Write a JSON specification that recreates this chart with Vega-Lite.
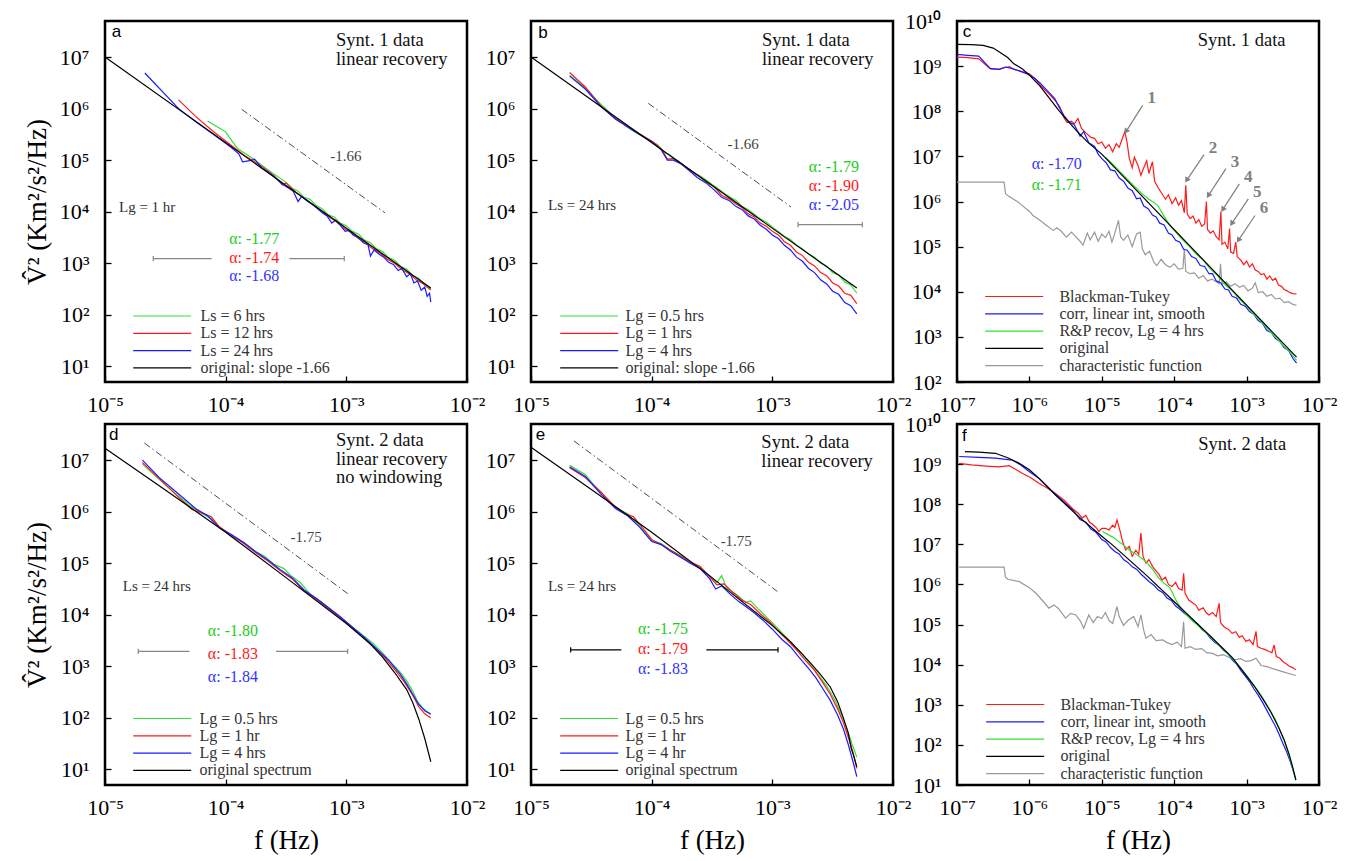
{
  "$schema": "https://vega.github.io/schema/vega-lite/v6.json",
  "padding": {"left": 22, "top": 8, "right": 5, "bottom": 5},
  "config": {
    "font": "Liberation Serif",
    "view": {"stroke": "#000", "strokeWidth": 2.5},
    "axis": {
      "grid": false, "domain": false, "tickSize": -6, "tickColor": "#000", "tickWidth": 1.3,
      "labelFont": "Liberation Serif", "labelFontSize": 22, "labelColor": "#000",
      "labelFlush": false, "labelOverlap": false, "labelBound": false,
      "titleFont": "Liberation Serif", "titleFontSize": 27, "titleFontWeight": "normal", "titleColor": "#000"
    },
    "axisX": {"labelPadding": 18, "titlePadding": 9},
    "axisY": {"labelPadding": 22, "titlePadding": 8},
    "legend": {
      "orient": "none", "title": null, "symbolType": "M-1,0H9", "symbolSize": 134.6, "symbolStrokeWidth": 2,
      "symbolOpacity": 1, "zindex": 5,
      "labelFont": "Liberation Serif", "labelFontSize": 16, "labelColor": "#333", "labelLimit": 400,
      "rowPadding": 1.3, "padding": 0
    },
    "line": {"strokeWidth": 1.2}
  },
  "datasets": {
    "a": [
      {"s":"ls6","lf":-4.15,"lp":5.76},{"s":"ls6","lf":-4.05,"lp":5.62},{"s":"ls6","lf":-4.00,"lp":5.55},{"s":"ls6","lf":-3.95,"lp":5.38},{"s":"ls6","lf":-3.90,"lp":5.22},{"s":"ls6","lf":-3.80,"lp":5.07},{"s":"ls6","lf":-3.70,"lp":4.90},{"s":"ls6","lf":-3.60,"lp":4.73},{"s":"ls6","lf":-3.50,"lp":4.57},{"s":"ls6","lf":-3.45,"lp":4.46},{"s":"ls6","lf":-3.40,"lp":4.40},{"s":"ls6","lf":-3.35,"lp":4.28},{"s":"ls6","lf":-3.30,"lp":4.24},{"s":"ls6","lf":-3.25,"lp":4.12},{"s":"ls6","lf":-3.20,"lp":4.06},{"s":"ls6","lf":-3.15,"lp":3.94},{"s":"ls6","lf":-3.10,"lp":3.90},{"s":"ls6","lf":-3.05,"lp":3.78},{"s":"ls6","lf":-3.00,"lp":3.73},{"s":"ls6","lf":-2.95,"lp":3.62},{"s":"ls6","lf":-2.90,"lp":3.57},{"s":"ls6","lf":-2.85,"lp":3.45},{"s":"ls6","lf":-2.80,"lp":3.40},{"s":"ls6","lf":-2.75,"lp":3.28},{"s":"ls6","lf":-2.70,"lp":3.23},{"s":"ls6","lf":-2.65,"lp":3.11},{"s":"ls6","lf":-2.60,"lp":3.06},{"s":"ls6","lf":-2.55,"lp":2.94},{"s":"ls6","lf":-2.50,"lp":2.89},{"s":"ls6","lf":-2.45,"lp":2.76},{"s":"ls6","lf":-2.40,"lp":2.71},{"s":"ls6","lf":-2.35,"lp":2.58},{"s":"ls6","lf":-2.30,"lp":2.50},
      {"s":"ls12","lf":-4.39,"lp":6.17},{"s":"ls12","lf":-4.25,"lp":5.85},{"s":"ls12","lf":-4.10,"lp":5.55},{"s":"ls12","lf":-3.95,"lp":5.28},{"s":"ls12","lf":-3.85,"lp":5.10},{"s":"ls12","lf":-3.70,"lp":4.88},{"s":"ls12","lf":-3.60,"lp":4.70},{"s":"ls12","lf":-3.53,"lp":4.52},{"s":"ls12","lf":-3.50,"lp":4.56},{"s":"ls12","lf":-3.42,"lp":4.38},{"s":"ls12","lf":-3.35,"lp":4.26},{"s":"ls12","lf":-3.28,"lp":4.14},{"s":"ls12","lf":-3.20,"lp":4.00},{"s":"ls12","lf":-3.14,"lp":3.90},{"s":"ls12","lf":-3.08,"lp":3.80},{"s":"ls12","lf":-3.02,"lp":3.68},{"s":"ls12","lf":-2.96,"lp":3.60},{"s":"ls12","lf":-2.90,"lp":3.48},{"s":"ls12","lf":-2.84,"lp":3.40},{"s":"ls12","lf":-2.78,"lp":3.28},{"s":"ls12","lf":-2.72,"lp":3.20},{"s":"ls12","lf":-2.66,"lp":3.08},{"s":"ls12","lf":-2.60,"lp":3.00},{"s":"ls12","lf":-2.54,"lp":2.88},{"s":"ls12","lf":-2.48,"lp":2.80},{"s":"ls12","lf":-2.42,"lp":2.68},{"s":"ls12","lf":-2.36,"lp":2.60},{"s":"ls12","lf":-2.30,"lp":2.48},
      {"s":"ls24","lf":-4.67,"lp":6.69},{"s":"ls24","lf":-4.39,"lp":6.00},{"s":"ls24","lf":-4.25,"lp":5.75},{"s":"ls24","lf":-4.10,"lp":5.50},{"s":"ls24","lf":-3.95,"lp":5.24},{"s":"ls24","lf":-3.89,"lp":5.12},{"s":"ls24","lf":-3.86,"lp":4.97},{"s":"ls24","lf":-3.80,"lp":4.99},{"s":"ls24","lf":-3.76,"lp":5.02},{"s":"ls24","lf":-3.70,"lp":4.85},{"s":"ls24","lf":-3.64,"lp":4.76},{"s":"ls24","lf":-3.58,"lp":4.64},{"s":"ls24","lf":-3.52,"lp":4.52},{"s":"ls24","lf":-3.48,"lp":4.46},{"s":"ls24","lf":-3.44,"lp":4.40},{"s":"ls24","lf":-3.40,"lp":4.20},{"s":"ls24","lf":-3.37,"lp":4.30},{"s":"ls24","lf":-3.33,"lp":4.22},{"s":"ls24","lf":-3.28,"lp":4.14},{"s":"ls24","lf":-3.24,"lp":4.06},{"s":"ls24","lf":-3.20,"lp":3.98},{"s":"ls24","lf":-3.16,"lp":3.92},{"s":"ls24","lf":-3.12,"lp":3.78},{"s":"ls24","lf":-3.09,"lp":3.84},{"s":"ls24","lf":-3.05,"lp":3.74},{"s":"ls24","lf":-3.01,"lp":3.62},{"s":"ls24","lf":-2.98,"lp":3.64},{"s":"ls24","lf":-2.94,"lp":3.54},{"s":"ls24","lf":-2.90,"lp":3.50},{"s":"ls24","lf":-2.86,"lp":3.40},{"s":"ls24","lf":-2.82,"lp":3.36},{"s":"ls24","lf":-2.80,"lp":3.14},{"s":"ls24","lf":-2.77,"lp":3.26},{"s":"ls24","lf":-2.73,"lp":3.18},{"s":"ls24","lf":-2.69,"lp":3.12},{"s":"ls24","lf":-2.65,"lp":3.02},{"s":"ls24","lf":-2.61,"lp":2.98},{"s":"ls24","lf":-2.57,"lp":2.86},{"s":"ls24","lf":-2.54,"lp":2.90},{"s":"ls24","lf":-2.50,"lp":2.74},{"s":"ls24","lf":-2.47,"lp":2.80},{"s":"ls24","lf":-2.44,"lp":2.62},{"s":"ls24","lf":-2.41,"lp":2.66},{"s":"ls24","lf":-2.38,"lp":2.48},{"s":"ls24","lf":-2.35,"lp":2.54},{"s":"ls24","lf":-2.33,"lp":2.36},{"s":"ls24","lf":-2.31,"lp":2.42},{"s":"ls24","lf":-2.30,"lp":2.25},
      {"s":"orig","lf":-5.00,"lp":7.00},{"s":"orig","lf":-2.30,"lp":2.52}
    ],
    "b": [
      {"s":"lg05","lf":-4.68,"lp":6.65},{"s":"lg05","lf":-4.55,"lp":6.40},{"s":"lg05","lf":-4.42,"lp":6.08},{"s":"lg05","lf":-4.30,"lp":5.82},{"s":"lg05","lf":-4.20,"lp":5.64},{"s":"lg05","lf":-4.12,"lp":5.52},{"s":"lg05","lf":-4.00,"lp":5.36},{"s":"lg05","lf":-3.95,"lp":5.30},{"s":"lg05","lf":-3.90,"lp":5.16},{"s":"lg05","lf":-3.85,"lp":5.10},{"s":"lg05","lf":-3.78,"lp":4.98},{"s":"lg05","lf":-3.72,"lp":4.86},{"s":"lg05","lf":-3.65,"lp":4.75},{"s":"lg05","lf":-3.60,"lp":4.70},{"s":"lg05","lf":-3.55,"lp":4.62},{"s":"lg05","lf":-3.50,"lp":4.53},{"s":"lg05","lf":-3.45,"lp":4.45},{"s":"lg05","lf":-3.40,"lp":4.36},{"s":"lg05","lf":-3.35,"lp":4.28},{"s":"lg05","lf":-3.30,"lp":4.22},{"s":"lg05","lf":-3.25,"lp":4.10},{"s":"lg05","lf":-3.20,"lp":4.04},{"s":"lg05","lf":-3.15,"lp":3.95},{"s":"lg05","lf":-3.10,"lp":3.86},{"s":"lg05","lf":-3.05,"lp":3.80},{"s":"lg05","lf":-3.00,"lp":3.70},{"s":"lg05","lf":-2.95,"lp":3.62},{"s":"lg05","lf":-2.90,"lp":3.52},{"s":"lg05","lf":-2.85,"lp":3.46},{"s":"lg05","lf":-2.80,"lp":3.35},{"s":"lg05","lf":-2.75,"lp":3.28},{"s":"lg05","lf":-2.70,"lp":3.18},{"s":"lg05","lf":-2.65,"lp":3.12},{"s":"lg05","lf":-2.60,"lp":3.00},{"s":"lg05","lf":-2.55,"lp":2.95},{"s":"lg05","lf":-2.50,"lp":2.82},{"s":"lg05","lf":-2.45,"lp":2.78},{"s":"lg05","lf":-2.40,"lp":2.64},{"s":"lg05","lf":-2.35,"lp":2.58},{"s":"lg05","lf":-2.30,"lp":2.42},
      {"s":"lg1","lf":-4.68,"lp":6.70},{"s":"lg1","lf":-4.55,"lp":6.42},{"s":"lg1","lf":-4.42,"lp":6.05},{"s":"lg1","lf":-4.30,"lp":5.80},{"s":"lg1","lf":-4.15,"lp":5.58},{"s":"lg1","lf":-4.00,"lp":5.37},{"s":"lg1","lf":-3.92,"lp":5.22},{"s":"lg1","lf":-3.87,"lp":5.02},{"s":"lg1","lf":-3.82,"lp":5.03},{"s":"lg1","lf":-3.78,"lp":4.98},{"s":"lg1","lf":-3.70,"lp":4.84},{"s":"lg1","lf":-3.62,"lp":4.71},{"s":"lg1","lf":-3.55,"lp":4.58},{"s":"lg1","lf":-3.48,"lp":4.48},{"s":"lg1","lf":-3.42,"lp":4.32},{"s":"lg1","lf":-3.36,"lp":4.25},{"s":"lg1","lf":-3.30,"lp":4.15},{"s":"lg1","lf":-3.25,"lp":4.08},{"s":"lg1","lf":-3.20,"lp":3.96},{"s":"lg1","lf":-3.15,"lp":3.90},{"s":"lg1","lf":-3.10,"lp":3.78},{"s":"lg1","lf":-3.05,"lp":3.72},{"s":"lg1","lf":-3.00,"lp":3.62},{"s":"lg1","lf":-2.95,"lp":3.55},{"s":"lg1","lf":-2.90,"lp":3.42},{"s":"lg1","lf":-2.85,"lp":3.35},{"s":"lg1","lf":-2.80,"lp":3.22},{"s":"lg1","lf":-2.75,"lp":3.15},{"s":"lg1","lf":-2.70,"lp":3.02},{"s":"lg1","lf":-2.65,"lp":2.95},{"s":"lg1","lf":-2.60,"lp":2.82},{"s":"lg1","lf":-2.55,"lp":2.76},{"s":"lg1","lf":-2.50,"lp":2.62},{"s":"lg1","lf":-2.45,"lp":2.56},{"s":"lg1","lf":-2.40,"lp":2.42},{"s":"lg1","lf":-2.35,"lp":2.38},{"s":"lg1","lf":-2.30,"lp":2.22},
      {"s":"lg4","lf":-4.68,"lp":6.63},{"s":"lg4","lf":-4.55,"lp":6.38},{"s":"lg4","lf":-4.42,"lp":6.04},{"s":"lg4","lf":-4.30,"lp":5.80},{"s":"lg4","lf":-4.15,"lp":5.57},{"s":"lg4","lf":-4.00,"lp":5.36},{"s":"lg4","lf":-3.92,"lp":5.20},{"s":"lg4","lf":-3.87,"lp":5.00},{"s":"lg4","lf":-3.82,"lp":5.00},{"s":"lg4","lf":-3.75,"lp":4.92},{"s":"lg4","lf":-3.68,"lp":4.78},{"s":"lg4","lf":-3.62,"lp":4.66},{"s":"lg4","lf":-3.55,"lp":4.56},{"s":"lg4","lf":-3.48,"lp":4.42},{"s":"lg4","lf":-3.42,"lp":4.28},{"s":"lg4","lf":-3.36,"lp":4.22},{"s":"lg4","lf":-3.30,"lp":4.10},{"s":"lg4","lf":-3.25,"lp":4.04},{"s":"lg4","lf":-3.20,"lp":3.92},{"s":"lg4","lf":-3.15,"lp":3.86},{"s":"lg4","lf":-3.10,"lp":3.74},{"s":"lg4","lf":-3.05,"lp":3.66},{"s":"lg4","lf":-3.00,"lp":3.55},{"s":"lg4","lf":-2.95,"lp":3.48},{"s":"lg4","lf":-2.90,"lp":3.35},{"s":"lg4","lf":-2.85,"lp":3.26},{"s":"lg4","lf":-2.80,"lp":3.12},{"s":"lg4","lf":-2.75,"lp":3.04},{"s":"lg4","lf":-2.70,"lp":2.90},{"s":"lg4","lf":-2.65,"lp":2.82},{"s":"lg4","lf":-2.60,"lp":2.68},{"s":"lg4","lf":-2.55,"lp":2.60},{"s":"lg4","lf":-2.50,"lp":2.46},{"s":"lg4","lf":-2.45,"lp":2.40},{"s":"lg4","lf":-2.40,"lp":2.24},{"s":"lg4","lf":-2.35,"lp":2.18},{"s":"lg4","lf":-2.30,"lp":2.02},
      {"s":"orig","lf":-5.00,"lp":7.00},{"s":"orig","lf":-2.30,"lp":2.52}
    ],
    "c": [
      {"s":"char","lf":-7.00,"lp":6.43},{"s":"char","lf":-6.60,"lp":6.43},{"s":"char","lf":-6.35,"lp":6.43},{"s":"char","lf":-6.33,"lp":6.18},{"s":"char","lf":-6.30,"lp":6.13},{"s":"char","lf":-6.15,"lp":5.98},{"s":"char","lf":-6.00,"lp":5.78},{"s":"char","lf":-5.95,"lp":5.69},{"s":"char","lf":-5.85,"lp":5.58},{"s":"char","lf":-5.75,"lp":5.45},{"s":"char","lf":-5.67,"lp":5.36},{"s":"char","lf":-5.62,"lp":5.42},{"s":"char","lf":-5.56,"lp":5.34},{"s":"char","lf":-5.49,"lp":5.21},{"s":"char","lf":-5.42,"lp":5.32},{"s":"char","lf":-5.36,"lp":5.22},{"s":"char","lf":-5.30,"lp":5.12},{"s":"char","lf":-5.26,"lp":5.03},{"s":"char","lf":-5.20,"lp":5.30},{"s":"char","lf":-5.16,"lp":5.15},{"s":"char","lf":-5.10,"lp":5.32},{"s":"char","lf":-5.05,"lp":5.12},{"s":"char","lf":-5.00,"lp":5.28},{"s":"char","lf":-4.95,"lp":5.20},{"s":"char","lf":-4.90,"lp":5.34},{"s":"char","lf":-4.86,"lp":5.10},{"s":"char","lf":-4.82,"lp":5.30},{"s":"char","lf":-4.77,"lp":5.58},{"s":"char","lf":-4.74,"lp":5.22},{"s":"char","lf":-4.70,"lp":5.14},{"s":"char","lf":-4.64,"lp":5.26},{"s":"char","lf":-4.58,"lp":5.00},{"s":"char","lf":-4.52,"lp":5.28},{"s":"char","lf":-4.47,"lp":5.32},{"s":"char","lf":-4.44,"lp":4.95},{"s":"char","lf":-4.40,"lp":4.82},{"s":"char","lf":-4.34,"lp":4.90},{"s":"char","lf":-4.28,"lp":4.65},{"s":"char","lf":-4.24,"lp":4.58},{"s":"char","lf":-4.18,"lp":4.72},{"s":"char","lf":-4.12,"lp":4.60},{"s":"char","lf":-4.06,"lp":4.54},{"s":"char","lf":-4.00,"lp":4.62},{"s":"char","lf":-3.94,"lp":4.50},{"s":"char","lf":-3.88,"lp":4.52},{"s":"char","lf":-3.86,"lp":4.95},{"s":"char","lf":-3.84,"lp":4.45},{"s":"char","lf":-3.78,"lp":4.40},{"s":"char","lf":-3.72,"lp":4.42},{"s":"char","lf":-3.66,"lp":4.30},{"s":"char","lf":-3.60,"lp":4.36},{"s":"char","lf":-3.54,"lp":4.24},{"s":"char","lf":-3.48,"lp":4.28},{"s":"char","lf":-3.42,"lp":4.22},{"s":"char","lf":-3.38,"lp":4.18},{"s":"char","lf":-3.36,"lp":4.62},{"s":"char","lf":-3.34,"lp":4.16},{"s":"char","lf":-3.28,"lp":4.22},{"s":"char","lf":-3.22,"lp":4.12},{"s":"char","lf":-3.16,"lp":4.18},{"s":"char","lf":-3.10,"lp":4.10},{"s":"char","lf":-3.04,"lp":4.14},{"s":"char","lf":-2.98,"lp":4.02},{"s":"char","lf":-2.92,"lp":4.08},{"s":"char","lf":-2.88,"lp":4.20},{"s":"char","lf":-2.84,"lp":3.98},{"s":"char","lf":-2.78,"lp":4.00},{"s":"char","lf":-2.72,"lp":3.90},{"s":"char","lf":-2.66,"lp":3.94},{"s":"char","lf":-2.60,"lp":3.84},{"s":"char","lf":-2.54,"lp":3.86},{"s":"char","lf":-2.48,"lp":3.76},{"s":"char","lf":-2.42,"lp":3.78},{"s":"char","lf":-2.36,"lp":3.72},{"s":"char","lf":-2.31,"lp":3.70},
      {"s":"bt","lf":-7.00,"lp":9.20},{"s":"bt","lf":-6.85,"lp":9.19},{"s":"bt","lf":-6.70,"lp":9.16},{"s":"bt","lf":-6.62,"lp":9.05},{"s":"bt","lf":-6.54,"lp":8.94},{"s":"bt","lf":-6.42,"lp":8.93},{"s":"bt","lf":-6.33,"lp":8.97},{"s":"bt","lf":-6.28,"lp":8.99},{"s":"bt","lf":-6.20,"lp":8.92},{"s":"bt","lf":-6.10,"lp":8.88},{"s":"bt","lf":-6.00,"lp":8.83},{"s":"bt","lf":-5.92,"lp":8.72},{"s":"bt","lf":-5.85,"lp":8.58},{"s":"bt","lf":-5.75,"lp":8.42},{"s":"bt","lf":-5.65,"lp":8.25},{"s":"bt","lf":-5.58,"lp":8.10},{"s":"bt","lf":-5.52,"lp":7.85},{"s":"bt","lf":-5.48,"lp":7.75},{"s":"bt","lf":-5.42,"lp":7.78},{"s":"bt","lf":-5.38,"lp":7.72},{"s":"bt","lf":-5.33,"lp":7.84},{"s":"bt","lf":-5.28,"lp":7.62},{"s":"bt","lf":-5.22,"lp":7.52},{"s":"bt","lf":-5.15,"lp":7.42},{"s":"bt","lf":-5.10,"lp":7.40},{"s":"bt","lf":-5.05,"lp":7.28},{"s":"bt","lf":-5.00,"lp":7.32},{"s":"bt","lf":-4.95,"lp":7.18},{"s":"bt","lf":-4.90,"lp":7.26},{"s":"bt","lf":-4.85,"lp":7.10},{"s":"bt","lf":-4.80,"lp":7.28},{"s":"bt","lf":-4.76,"lp":7.20},{"s":"bt","lf":-4.72,"lp":7.38},{"s":"bt","lf":-4.68,"lp":7.55},{"s":"bt","lf":-4.65,"lp":7.30},{"s":"bt","lf":-4.62,"lp":6.95},{"s":"bt","lf":-4.58,"lp":6.75},{"s":"bt","lf":-4.55,"lp":6.98},{"s":"bt","lf":-4.50,"lp":6.80},{"s":"bt","lf":-4.46,"lp":6.58},{"s":"bt","lf":-4.42,"lp":6.75},{"s":"bt","lf":-4.38,"lp":6.90},{"s":"bt","lf":-4.35,"lp":6.62},{"s":"bt","lf":-4.30,"lp":6.88},{"s":"bt","lf":-4.27,"lp":6.45},{"s":"bt","lf":-4.22,"lp":6.30},{"s":"bt","lf":-4.18,"lp":6.20},{"s":"bt","lf":-4.12,"lp":6.05},{"s":"bt","lf":-4.08,"lp":6.15},{"s":"bt","lf":-4.03,"lp":5.95},{"s":"bt","lf":-3.98,"lp":6.08},{"s":"bt","lf":-3.94,"lp":5.92},{"s":"bt","lf":-3.90,"lp":6.02},{"s":"bt","lf":-3.86,"lp":5.75},{"s":"bt","lf":-3.84,"lp":6.36},{"s":"bt","lf":-3.82,"lp":5.72},{"s":"bt","lf":-3.78,"lp":5.62},{"s":"bt","lf":-3.74,"lp":5.68},{"s":"bt","lf":-3.70,"lp":5.52},{"s":"bt","lf":-3.66,"lp":5.60},{"s":"bt","lf":-3.62,"lp":5.45},{"s":"bt","lf":-3.58,"lp":5.50},{"s":"bt","lf":-3.555,"lp":6.00},{"s":"bt","lf":-3.54,"lp":5.38},{"s":"bt","lf":-3.50,"lp":5.30},{"s":"bt","lf":-3.46,"lp":5.35},{"s":"bt","lf":-3.42,"lp":5.22},{"s":"bt","lf":-3.38,"lp":5.15},{"s":"bt","lf":-3.355,"lp":5.78},{"s":"bt","lf":-3.34,"lp":5.05},{"s":"bt","lf":-3.30,"lp":5.10},{"s":"bt","lf":-3.26,"lp":4.95},{"s":"bt","lf":-3.235,"lp":5.40},{"s":"bt","lf":-3.22,"lp":4.88},{"s":"bt","lf":-3.18,"lp":4.85},{"s":"bt","lf":-3.15,"lp":5.10},{"s":"bt","lf":-3.13,"lp":4.78},{"s":"bt","lf":-3.08,"lp":4.70},{"s":"bt","lf":-3.04,"lp":4.60},{"s":"bt","lf":-3.00,"lp":4.68},{"s":"bt","lf":-2.96,"lp":4.55},{"s":"bt","lf":-2.92,"lp":4.62},{"s":"bt","lf":-2.88,"lp":4.48},{"s":"bt","lf":-2.84,"lp":4.45},{"s":"bt","lf":-2.80,"lp":4.38},{"s":"bt","lf":-2.76,"lp":4.40},{"s":"bt","lf":-2.72,"lp":4.28},{"s":"bt","lf":-2.68,"lp":4.35},{"s":"bt","lf":-2.64,"lp":4.25},{"s":"bt","lf":-2.60,"lp":4.30},{"s":"bt","lf":-2.56,"lp":4.15},{"s":"bt","lf":-2.52,"lp":4.12},{"s":"bt","lf":-2.48,"lp":4.05},{"s":"bt","lf":-2.44,"lp":4.02},{"s":"bt","lf":-2.40,"lp":3.98},{"s":"bt","lf":-2.36,"lp":3.96},{"s":"bt","lf":-2.31,"lp":3.95},
      {"s":"corr","lf":-7.00,"lp":9.26},{"s":"corr","lf":-6.85,"lp":9.24},{"s":"corr","lf":-6.70,"lp":9.22},{"s":"corr","lf":-6.62,"lp":9.08},{"s":"corr","lf":-6.54,"lp":8.95},{"s":"corr","lf":-6.42,"lp":8.93},{"s":"corr","lf":-6.33,"lp":8.98},{"s":"corr","lf":-6.25,"lp":8.95},{"s":"corr","lf":-6.15,"lp":8.90},{"s":"corr","lf":-6.05,"lp":8.84},{"s":"corr","lf":-5.98,"lp":8.78},{"s":"corr","lf":-5.92,"lp":8.72},{"s":"corr","lf":-5.85,"lp":8.62},{"s":"corr","lf":-5.78,"lp":8.50},{"s":"corr","lf":-5.72,"lp":8.40},{"s":"corr","lf":-5.65,"lp":8.28},{"s":"corr","lf":-5.58,"lp":8.06},{"s":"corr","lf":-5.52,"lp":7.90},{"s":"corr","lf":-5.45,"lp":7.76},{"s":"corr","lf":-5.38,"lp":7.70},{"s":"corr","lf":-5.30,"lp":7.45},{"s":"corr","lf":-5.25,"lp":7.55},{"s":"corr","lf":-5.18,"lp":7.30},{"s":"corr","lf":-5.10,"lp":7.22},{"s":"corr","lf":-5.05,"lp":7.05},{"s":"corr","lf":-5.00,"lp":6.95},{"s":"corr","lf":-4.94,"lp":6.86},{"s":"corr","lf":-4.88,"lp":6.70},{"s":"corr","lf":-4.82,"lp":6.68},{"s":"corr","lf":-4.76,"lp":6.52},{"s":"corr","lf":-4.70,"lp":6.45},{"s":"corr","lf":-4.64,"lp":6.30},{"s":"corr","lf":-4.58,"lp":6.24},{"s":"corr","lf":-4.52,"lp":6.06},{"s":"corr","lf":-4.47,"lp":6.08},{"s":"corr","lf":-4.42,"lp":5.90},{"s":"corr","lf":-4.36,"lp":5.84},{"s":"corr","lf":-4.30,"lp":5.70},{"s":"corr","lf":-4.25,"lp":5.66},{"s":"corr","lf":-4.20,"lp":5.52},{"s":"corr","lf":-4.14,"lp":5.48},{"s":"corr","lf":-4.08,"lp":5.30},{"s":"corr","lf":-4.03,"lp":5.26},{"s":"corr","lf":-3.98,"lp":5.14},{"s":"corr","lf":-3.92,"lp":5.10},{"s":"corr","lf":-3.87,"lp":4.94},{"s":"corr","lf":-3.82,"lp":4.92},{"s":"corr","lf":-3.76,"lp":4.78},{"s":"corr","lf":-3.70,"lp":4.74},{"s":"corr","lf":-3.64,"lp":4.58},{"s":"corr","lf":-3.58,"lp":4.56},{"s":"corr","lf":-3.52,"lp":4.40},{"s":"corr","lf":-3.47,"lp":4.40},{"s":"corr","lf":-3.42,"lp":4.24},{"s":"corr","lf":-3.36,"lp":4.20},{"s":"corr","lf":-3.30,"lp":4.06},{"s":"corr","lf":-3.25,"lp":4.04},{"s":"corr","lf":-3.20,"lp":3.90},{"s":"corr","lf":-3.14,"lp":3.86},{"s":"corr","lf":-3.08,"lp":3.72},{"s":"corr","lf":-3.02,"lp":3.68},{"s":"corr","lf":-2.96,"lp":3.56},{"s":"corr","lf":-2.90,"lp":3.50},{"s":"corr","lf":-2.84,"lp":3.36},{"s":"corr","lf":-2.78,"lp":3.30},{"s":"corr","lf":-2.72,"lp":3.14},{"s":"corr","lf":-2.66,"lp":3.10},{"s":"corr","lf":-2.60,"lp":2.96},{"s":"corr","lf":-2.54,"lp":2.90},{"s":"corr","lf":-2.48,"lp":2.76},{"s":"corr","lf":-2.42,"lp":2.70},{"s":"corr","lf":-2.36,"lp":2.52},{"s":"corr","lf":-2.31,"lp":2.42},
      {"s":"rp","lf":-4.95,"lp":6.98},{"s":"rp","lf":-4.85,"lp":6.83},{"s":"rp","lf":-4.75,"lp":6.66},{"s":"rp","lf":-4.65,"lp":6.50},{"s":"rp","lf":-4.55,"lp":6.34},{"s":"rp","lf":-4.45,"lp":6.18},{"s":"rp","lf":-4.35,"lp":6.05},{"s":"rp","lf":-4.28,"lp":5.98},{"s":"rp","lf":-4.22,"lp":5.90},{"s":"rp","lf":-4.18,"lp":5.78},{"s":"rp","lf":-4.12,"lp":5.62},{"s":"rp","lf":-4.05,"lp":5.45},{"s":"rp","lf":-3.98,"lp":5.32},{"s":"rp","lf":-3.90,"lp":5.18},{"s":"rp","lf":-3.80,"lp":5.02},{"s":"rp","lf":-3.70,"lp":4.84},{"s":"rp","lf":-3.60,"lp":4.70},{"s":"rp","lf":-3.50,"lp":4.50},{"s":"rp","lf":-3.40,"lp":4.36},{"s":"rp","lf":-3.30,"lp":4.16},{"s":"rp","lf":-3.20,"lp":4.02},{"s":"rp","lf":-3.10,"lp":3.84},{"s":"rp","lf":-3.00,"lp":3.68},{"s":"rp","lf":-2.90,"lp":3.50},{"s":"rp","lf":-2.80,"lp":3.34},{"s":"rp","lf":-2.70,"lp":3.16},{"s":"rp","lf":-2.60,"lp":3.00},{"s":"rp","lf":-2.50,"lp":2.82},{"s":"rp","lf":-2.40,"lp":2.66},{"s":"rp","lf":-2.31,"lp":2.48},
      {"s":"orig","lf":-7.00,"lp":9.48},{"s":"orig","lf":-6.80,"lp":9.475},{"s":"orig","lf":-6.64,"lp":9.46},{"s":"orig","lf":-6.50,"lp":9.40},{"s":"orig","lf":-6.41,"lp":9.31},{"s":"orig","lf":-6.30,"lp":9.19},{"s":"orig","lf":-6.22,"lp":9.06},{"s":"orig","lf":-6.10,"lp":8.94},{"s":"orig","lf":-6.00,"lp":8.80},{"s":"orig","lf":-5.85,"lp":8.55},{"s":"orig","lf":-5.72,"lp":8.28},{"s":"orig","lf":-5.60,"lp":8.03},{"s":"orig","lf":-5.49,"lp":7.82},{"s":"orig","lf":-5.35,"lp":7.57},{"s":"orig","lf":-5.20,"lp":7.32},{"s":"orig","lf":-5.00,"lp":7.05},{"s":"orig","lf":-2.31,"lp":2.55}
    ],
    "arrows": [
      {"n":"1","lf":-4.436,"lp":8.13,"lf2":-4.666,"lp2":7.55},
      {"n":"2","lf":-3.588,"lp":7.04,"lf2":-3.828,"lp2":6.47},
      {"n":"3","lf":-3.285,"lp":6.73,"lf2":-3.529,"lp2":6.13},
      {"n":"4","lf":-3.10,"lp":6.39,"lf2":-3.33,"lp2":5.82},
      {"n":"5","lf":-2.976,"lp":6.06,"lf2":-3.206,"lp2":5.51},
      {"n":"6","lf":-2.884,"lp":5.69,"lf2":-3.114,"lp2":5.14}
    ],
    "d": [
      {"s":"lg05","lf":-4.69,"lp":6.92},{"s":"lg05","lf":-4.55,"lp":6.62},{"s":"lg05","lf":-4.40,"lp":6.32},{"s":"lg05","lf":-4.30,"lp":6.12},{"s":"lg05","lf":-4.20,"lp":5.97},{"s":"lg05","lf":-4.12,"lp":5.86},{"s":"lg05","lf":-4.05,"lp":5.70},{"s":"lg05","lf":-3.95,"lp":5.52},{"s":"lg05","lf":-3.85,"lp":5.40},{"s":"lg05","lf":-3.75,"lp":5.22},{"s":"lg05","lf":-3.68,"lp":5.14},{"s":"lg05","lf":-3.60,"lp":4.98},{"s":"lg05","lf":-3.52,"lp":4.90},{"s":"lg05","lf":-3.45,"lp":4.74},{"s":"lg05","lf":-3.38,"lp":4.62},{"s":"lg05","lf":-3.30,"lp":4.40},{"s":"lg05","lf":-3.22,"lp":4.27},{"s":"lg05","lf":-3.15,"lp":4.14},{"s":"lg05","lf":-3.08,"lp":4.01},{"s":"lg05","lf":-3.00,"lp":3.86},{"s":"lg05","lf":-2.92,"lp":3.71},{"s":"lg05","lf":-2.85,"lp":3.58},{"s":"lg05","lf":-2.78,"lp":3.45},{"s":"lg05","lf":-2.70,"lp":3.26},{"s":"lg05","lf":-2.62,"lp":3.05},{"s":"lg05","lf":-2.55,"lp":2.88},{"s":"lg05","lf":-2.50,"lp":2.72},{"s":"lg05","lf":-2.45,"lp":2.52},{"s":"lg05","lf":-2.41,"lp":2.32},{"s":"lg05","lf":-2.37,"lp":2.20},{"s":"lg05","lf":-2.33,"lp":2.12},{"s":"lg05","lf":-2.30,"lp":2.08},
      {"s":"lg1","lf":-4.69,"lp":6.95},{"s":"lg1","lf":-4.55,"lp":6.64},{"s":"lg1","lf":-4.40,"lp":6.30},{"s":"lg1","lf":-4.28,"lp":6.04},{"s":"lg1","lf":-4.18,"lp":5.96},{"s":"lg1","lf":-4.12,"lp":5.90},{"s":"lg1","lf":-4.05,"lp":5.70},{"s":"lg1","lf":-3.95,"lp":5.54},{"s":"lg1","lf":-3.85,"lp":5.38},{"s":"lg1","lf":-3.75,"lp":5.20},{"s":"lg1","lf":-3.65,"lp":5.04},{"s":"lg1","lf":-3.55,"lp":4.86},{"s":"lg1","lf":-3.45,"lp":4.70},{"s":"lg1","lf":-3.35,"lp":4.46},{"s":"lg1","lf":-3.25,"lp":4.30},{"s":"lg1","lf":-3.15,"lp":4.12},{"s":"lg1","lf":-3.05,"lp":3.94},{"s":"lg1","lf":-2.95,"lp":3.75},{"s":"lg1","lf":-2.85,"lp":3.54},{"s":"lg1","lf":-2.75,"lp":3.32},{"s":"lg1","lf":-2.68,"lp":3.16},{"s":"lg1","lf":-2.60,"lp":2.94},{"s":"lg1","lf":-2.52,"lp":2.70},{"s":"lg1","lf":-2.45,"lp":2.44},{"s":"lg1","lf":-2.40,"lp":2.22},{"s":"lg1","lf":-2.35,"lp":2.08},{"s":"lg1","lf":-2.30,"lp":2.00},
      {"s":"lg4","lf":-4.69,"lp":7.00},{"s":"lg4","lf":-4.55,"lp":6.66},{"s":"lg4","lf":-4.40,"lp":6.36},{"s":"lg4","lf":-4.25,"lp":6.06},{"s":"lg4","lf":-4.15,"lp":5.92},{"s":"lg4","lf":-4.05,"lp":5.68},{"s":"lg4","lf":-3.95,"lp":5.55},{"s":"lg4","lf":-3.85,"lp":5.40},{"s":"lg4","lf":-3.75,"lp":5.22},{"s":"lg4","lf":-3.65,"lp":5.06},{"s":"lg4","lf":-3.55,"lp":4.88},{"s":"lg4","lf":-3.45,"lp":4.72},{"s":"lg4","lf":-3.35,"lp":4.48},{"s":"lg4","lf":-3.25,"lp":4.32},{"s":"lg4","lf":-3.15,"lp":4.14},{"s":"lg4","lf":-3.05,"lp":3.96},{"s":"lg4","lf":-2.95,"lp":3.76},{"s":"lg4","lf":-2.85,"lp":3.56},{"s":"lg4","lf":-2.75,"lp":3.34},{"s":"lg4","lf":-2.65,"lp":3.12},{"s":"lg4","lf":-2.55,"lp":2.84},{"s":"lg4","lf":-2.50,"lp":2.66},{"s":"lg4","lf":-2.45,"lp":2.46},{"s":"lg4","lf":-2.40,"lp":2.26},{"s":"lg4","lf":-2.35,"lp":2.14},{"s":"lg4","lf":-2.30,"lp":2.07},
      {"s":"orig","lf":-5.00,"lp":7.23},{"s":"orig","lf":-4.50,"lp":6.42},{"s":"orig","lf":-4.00,"lp":5.60},{"s":"orig","lf":-3.50,"lp":4.72},{"s":"orig","lf":-3.00,"lp":3.83},{"s":"orig","lf":-2.80,"lp":3.43},{"s":"orig","lf":-2.70,"lp":3.18},{"s":"orig","lf":-2.60,"lp":2.88},{"s":"orig","lf":-2.50,"lp":2.55},{"s":"orig","lf":-2.45,"lp":2.30},{"s":"orig","lf":-2.40,"lp":1.98},{"s":"orig","lf":-2.35,"lp":1.60},{"s":"orig","lf":-2.30,"lp":1.15}
    ],
    "e": [
      {"s":"lg05","lf":-4.68,"lp":6.90},{"s":"lg05","lf":-4.55,"lp":6.72},{"s":"lg05","lf":-4.42,"lp":6.35},{"s":"lg05","lf":-4.30,"lp":6.08},{"s":"lg05","lf":-4.20,"lp":5.96},{"s":"lg05","lf":-4.10,"lp":5.72},{"s":"lg05","lf":-4.00,"lp":5.44},{"s":"lg05","lf":-3.92,"lp":5.38},{"s":"lg05","lf":-3.85,"lp":5.26},{"s":"lg05","lf":-3.75,"lp":5.14},{"s":"lg05","lf":-3.68,"lp":5.02},{"s":"lg05","lf":-3.60,"lp":4.92},{"s":"lg05","lf":-3.52,"lp":4.76},{"s":"lg05","lf":-3.46,"lp":4.62},{"s":"lg05","lf":-3.42,"lp":4.76},{"s":"lg05","lf":-3.38,"lp":4.52},{"s":"lg05","lf":-3.30,"lp":4.40},{"s":"lg05","lf":-3.22,"lp":4.24},{"s":"lg05","lf":-3.18,"lp":4.27},{"s":"lg05","lf":-3.12,"lp":4.12},{"s":"lg05","lf":-3.05,"lp":3.96},{"s":"lg05","lf":-2.98,"lp":3.80},{"s":"lg05","lf":-2.90,"lp":3.60},{"s":"lg05","lf":-2.82,"lp":3.40},{"s":"lg05","lf":-2.75,"lp":3.24},{"s":"lg05","lf":-2.68,"lp":3.02},{"s":"lg05","lf":-2.62,"lp":2.84},{"s":"lg05","lf":-2.55,"lp":2.62},{"s":"lg05","lf":-2.48,"lp":2.34},{"s":"lg05","lf":-2.42,"lp":2.02},{"s":"lg05","lf":-2.38,"lp":1.78},{"s":"lg05","lf":-2.34,"lp":1.50},{"s":"lg05","lf":-2.30,"lp":1.24},
      {"s":"lg1","lf":-4.68,"lp":6.85},{"s":"lg1","lf":-4.55,"lp":6.66},{"s":"lg1","lf":-4.42,"lp":6.38},{"s":"lg1","lf":-4.30,"lp":6.08},{"s":"lg1","lf":-4.22,"lp":5.96},{"s":"lg1","lf":-4.15,"lp":5.90},{"s":"lg1","lf":-4.08,"lp":5.70},{"s":"lg1","lf":-4.00,"lp":5.46},{"s":"lg1","lf":-3.92,"lp":5.36},{"s":"lg1","lf":-3.85,"lp":5.26},{"s":"lg1","lf":-3.75,"lp":5.12},{"s":"lg1","lf":-3.68,"lp":5.02},{"s":"lg1","lf":-3.60,"lp":4.94},{"s":"lg1","lf":-3.52,"lp":4.74},{"s":"lg1","lf":-3.46,"lp":4.58},{"s":"lg1","lf":-3.40,"lp":4.60},{"s":"lg1","lf":-3.33,"lp":4.44},{"s":"lg1","lf":-3.25,"lp":4.28},{"s":"lg1","lf":-3.18,"lp":4.20},{"s":"lg1","lf":-3.10,"lp":4.02},{"s":"lg1","lf":-3.02,"lp":3.86},{"s":"lg1","lf":-2.95,"lp":3.68},{"s":"lg1","lf":-2.88,"lp":3.52},{"s":"lg1","lf":-2.80,"lp":3.32},{"s":"lg1","lf":-2.72,"lp":3.10},{"s":"lg1","lf":-2.65,"lp":2.92},{"s":"lg1","lf":-2.58,"lp":2.68},{"s":"lg1","lf":-2.52,"lp":2.46},{"s":"lg1","lf":-2.46,"lp":2.18},{"s":"lg1","lf":-2.41,"lp":1.90},{"s":"lg1","lf":-2.37,"lp":1.62},{"s":"lg1","lf":-2.33,"lp":1.32},{"s":"lg1","lf":-2.30,"lp":1.02},
      {"s":"lg4","lf":-4.68,"lp":6.87},{"s":"lg4","lf":-4.55,"lp":6.68},{"s":"lg4","lf":-4.42,"lp":6.34},{"s":"lg4","lf":-4.30,"lp":6.06},{"s":"lg4","lf":-4.20,"lp":5.92},{"s":"lg4","lf":-4.10,"lp":5.70},{"s":"lg4","lf":-4.00,"lp":5.42},{"s":"lg4","lf":-3.92,"lp":5.36},{"s":"lg4","lf":-3.85,"lp":5.24},{"s":"lg4","lf":-3.75,"lp":5.10},{"s":"lg4","lf":-3.68,"lp":5.00},{"s":"lg4","lf":-3.60,"lp":4.90},{"s":"lg4","lf":-3.52,"lp":4.70},{"s":"lg4","lf":-3.47,"lp":4.50},{"s":"lg4","lf":-3.42,"lp":4.56},{"s":"lg4","lf":-3.35,"lp":4.40},{"s":"lg4","lf":-3.28,"lp":4.26},{"s":"lg4","lf":-3.22,"lp":4.16},{"s":"lg4","lf":-3.15,"lp":4.04},{"s":"lg4","lf":-3.08,"lp":3.90},{"s":"lg4","lf":-3.00,"lp":3.72},{"s":"lg4","lf":-2.92,"lp":3.52},{"s":"lg4","lf":-2.85,"lp":3.38},{"s":"lg4","lf":-2.78,"lp":3.18},{"s":"lg4","lf":-2.70,"lp":2.96},{"s":"lg4","lf":-2.64,"lp":2.78},{"s":"lg4","lf":-2.58,"lp":2.56},{"s":"lg4","lf":-2.52,"lp":2.34},{"s":"lg4","lf":-2.46,"lp":2.06},{"s":"lg4","lf":-2.41,"lp":1.78},{"s":"lg4","lf":-2.37,"lp":1.48},{"s":"lg4","lf":-2.33,"lp":1.14},{"s":"lg4","lf":-2.30,"lp":0.86},
      {"s":"orig","lf":-5.00,"lp":7.25},{"s":"orig","lf":-4.50,"lp":6.43},{"s":"orig","lf":-4.00,"lp":5.60},{"s":"orig","lf":-3.50,"lp":4.72},{"s":"orig","lf":-3.00,"lp":3.79},{"s":"orig","lf":-2.85,"lp":3.48},{"s":"orig","lf":-2.69,"lp":3.08},{"s":"orig","lf":-2.60,"lp":2.84},{"s":"orig","lf":-2.52,"lp":2.60},{"s":"orig","lf":-2.46,"lp":2.32},{"s":"orig","lf":-2.41,"lp":1.99},{"s":"orig","lf":-2.37,"lp":1.70},{"s":"orig","lf":-2.345,"lp":1.40},{"s":"orig","lf":-2.32,"lp":1.22},{"s":"orig","lf":-2.30,"lp":1.05}
    ],
    "f": [
      {"s":"char","lf":-6.97,"lp":6.43},{"s":"char","lf":-6.60,"lp":6.43},{"s":"char","lf":-6.35,"lp":6.43},{"s":"char","lf":-6.33,"lp":6.18},{"s":"char","lf":-6.30,"lp":6.13},{"s":"char","lf":-6.14,"lp":6.07},{"s":"char","lf":-6.00,"lp":5.92},{"s":"char","lf":-5.91,"lp":5.78},{"s":"char","lf":-5.82,"lp":5.60},{"s":"char","lf":-5.73,"lp":5.41},{"s":"char","lf":-5.66,"lp":5.49},{"s":"char","lf":-5.60,"lp":5.40},{"s":"char","lf":-5.50,"lp":5.16},{"s":"char","lf":-5.43,"lp":5.28},{"s":"char","lf":-5.36,"lp":5.24},{"s":"char","lf":-5.30,"lp":5.10},{"s":"char","lf":-5.25,"lp":4.91},{"s":"char","lf":-5.18,"lp":5.24},{"s":"char","lf":-5.12,"lp":5.05},{"s":"char","lf":-5.06,"lp":5.20},{"s":"char","lf":-5.00,"lp":5.15},{"s":"char","lf":-4.95,"lp":5.30},{"s":"char","lf":-4.90,"lp":5.10},{"s":"char","lf":-4.85,"lp":5.03},{"s":"char","lf":-4.79,"lp":5.45},{"s":"char","lf":-4.76,"lp":5.20},{"s":"char","lf":-4.70,"lp":4.98},{"s":"char","lf":-4.64,"lp":5.10},{"s":"char","lf":-4.56,"lp":5.20},{"s":"char","lf":-4.50,"lp":4.95},{"s":"char","lf":-4.46,"lp":5.24},{"s":"char","lf":-4.42,"lp":4.85},{"s":"char","lf":-4.39,"lp":4.66},{"s":"char","lf":-4.32,"lp":4.75},{"s":"char","lf":-4.25,"lp":4.60},{"s":"char","lf":-4.16,"lp":4.62},{"s":"char","lf":-4.10,"lp":4.55},{"s":"char","lf":-4.03,"lp":4.50},{"s":"char","lf":-3.96,"lp":4.56},{"s":"char","lf":-3.90,"lp":4.45},{"s":"char","lf":-3.87,"lp":5.07},{"s":"char","lf":-3.85,"lp":4.41},{"s":"char","lf":-3.78,"lp":4.45},{"s":"char","lf":-3.70,"lp":4.38},{"s":"char","lf":-3.62,"lp":4.40},{"s":"char","lf":-3.55,"lp":4.30},{"s":"char","lf":-3.47,"lp":4.28},{"s":"char","lf":-3.40,"lp":4.22},{"s":"char","lf":-3.32,"lp":4.25},{"s":"char","lf":-3.24,"lp":4.18},{"s":"char","lf":-3.16,"lp":4.12},{"s":"char","lf":-3.08,"lp":4.15},{"s":"char","lf":-3.01,"lp":4.08},{"s":"char","lf":-2.94,"lp":4.10},{"s":"char","lf":-2.87,"lp":4.16},{"s":"char","lf":-2.80,"lp":3.98},{"s":"char","lf":-2.72,"lp":3.95},{"s":"char","lf":-2.64,"lp":3.90},{"s":"char","lf":-2.55,"lp":3.85},{"s":"char","lf":-2.46,"lp":3.80},{"s":"char","lf":-2.38,"lp":3.76},{"s":"char","lf":-2.32,"lp":3.73},
      {"s":"bt","lf":-6.97,"lp":9.02},{"s":"bt","lf":-6.80,"lp":8.98},{"s":"bt","lf":-6.60,"lp":8.95},{"s":"bt","lf":-6.42,"lp":8.93},{"s":"bt","lf":-6.28,"lp":8.96},{"s":"bt","lf":-6.18,"lp":8.86},{"s":"bt","lf":-6.10,"lp":8.77},{"s":"bt","lf":-5.98,"lp":8.66},{"s":"bt","lf":-5.87,"lp":8.52},{"s":"bt","lf":-5.75,"lp":8.40},{"s":"bt","lf":-5.64,"lp":8.27},{"s":"bt","lf":-5.52,"lp":8.10},{"s":"bt","lf":-5.41,"lp":7.90},{"s":"bt","lf":-5.33,"lp":7.78},{"s":"bt","lf":-5.27,"lp":7.66},{"s":"bt","lf":-5.22,"lp":7.72},{"s":"bt","lf":-5.17,"lp":7.55},{"s":"bt","lf":-5.13,"lp":7.50},{"s":"bt","lf":-5.08,"lp":7.42},{"s":"bt","lf":-5.04,"lp":7.32},{"s":"bt","lf":-5.00,"lp":7.40},{"s":"bt","lf":-4.95,"lp":7.40},{"s":"bt","lf":-4.90,"lp":7.36},{"s":"bt","lf":-4.85,"lp":7.48},{"s":"bt","lf":-4.82,"lp":7.42},{"s":"bt","lf":-4.79,"lp":7.61},{"s":"bt","lf":-4.75,"lp":7.35},{"s":"bt","lf":-4.71,"lp":7.05},{"s":"bt","lf":-4.67,"lp":6.86},{"s":"bt","lf":-4.62,"lp":6.95},{"s":"bt","lf":-4.58,"lp":6.70},{"s":"bt","lf":-4.53,"lp":6.85},{"s":"bt","lf":-4.49,"lp":6.75},{"s":"bt","lf":-4.46,"lp":7.28},{"s":"bt","lf":-4.43,"lp":6.70},{"s":"bt","lf":-4.39,"lp":6.53},{"s":"bt","lf":-4.35,"lp":6.62},{"s":"bt","lf":-4.30,"lp":6.45},{"s":"bt","lf":-4.26,"lp":6.36},{"s":"bt","lf":-4.21,"lp":6.25},{"s":"bt","lf":-4.17,"lp":6.11},{"s":"bt","lf":-4.12,"lp":6.18},{"s":"bt","lf":-4.08,"lp":6.00},{"s":"bt","lf":-4.03,"lp":5.95},{"s":"bt","lf":-3.98,"lp":6.05},{"s":"bt","lf":-3.94,"lp":5.90},{"s":"bt","lf":-3.89,"lp":5.86},{"s":"bt","lf":-3.87,"lp":6.28},{"s":"bt","lf":-3.85,"lp":5.78},{"s":"bt","lf":-3.80,"lp":5.61},{"s":"bt","lf":-3.75,"lp":5.55},{"s":"bt","lf":-3.70,"lp":5.48},{"s":"bt","lf":-3.66,"lp":5.36},{"s":"bt","lf":-3.60,"lp":5.42},{"s":"bt","lf":-3.56,"lp":5.30},{"s":"bt","lf":-3.52,"lp":5.24},{"s":"bt","lf":-3.47,"lp":5.30},{"s":"bt","lf":-3.42,"lp":5.20},{"s":"bt","lf":-3.38,"lp":5.53},{"s":"bt","lf":-3.36,"lp":5.05},{"s":"bt","lf":-3.31,"lp":4.94},{"s":"bt","lf":-3.25,"lp":4.88},{"s":"bt","lf":-3.20,"lp":4.78},{"s":"bt","lf":-3.15,"lp":4.82},{"s":"bt","lf":-3.10,"lp":4.68},{"s":"bt","lf":-3.06,"lp":4.72},{"s":"bt","lf":-3.01,"lp":4.58},{"s":"bt","lf":-2.96,"lp":4.62},{"s":"bt","lf":-2.91,"lp":4.50},{"s":"bt","lf":-2.87,"lp":4.83},{"s":"bt","lf":-2.85,"lp":4.45},{"s":"bt","lf":-2.80,"lp":4.41},{"s":"bt","lf":-2.75,"lp":4.38},{"s":"bt","lf":-2.69,"lp":4.33},{"s":"bt","lf":-2.65,"lp":4.30},{"s":"bt","lf":-2.62,"lp":4.49},{"s":"bt","lf":-2.59,"lp":4.20},{"s":"bt","lf":-2.54,"lp":4.16},{"s":"bt","lf":-2.50,"lp":4.08},{"s":"bt","lf":-2.46,"lp":4.03},{"s":"bt","lf":-2.41,"lp":3.96},{"s":"bt","lf":-2.36,"lp":3.92},{"s":"bt","lf":-2.32,"lp":3.87},
      {"s":"corr","lf":-6.97,"lp":9.19},{"s":"corr","lf":-6.70,"lp":9.17},{"s":"corr","lf":-6.47,"lp":9.15},{"s":"corr","lf":-6.24,"lp":9.10},{"s":"corr","lf":-6.12,"lp":8.98},{"s":"corr","lf":-6.00,"lp":8.81},{"s":"corr","lf":-5.85,"lp":8.62},{"s":"corr","lf":-5.70,"lp":8.35},{"s":"corr","lf":-5.55,"lp":8.10},{"s":"corr","lf":-5.40,"lp":7.85},{"s":"corr","lf":-5.30,"lp":7.62},{"s":"corr","lf":-5.22,"lp":7.55},{"s":"corr","lf":-5.15,"lp":7.38},{"s":"corr","lf":-5.08,"lp":7.30},{"s":"corr","lf":-5.00,"lp":7.12},{"s":"corr","lf":-4.94,"lp":7.06},{"s":"corr","lf":-4.88,"lp":6.92},{"s":"corr","lf":-4.82,"lp":6.82},{"s":"corr","lf":-4.76,"lp":6.76},{"s":"corr","lf":-4.70,"lp":6.62},{"s":"corr","lf":-4.64,"lp":6.55},{"s":"corr","lf":-4.58,"lp":6.44},{"s":"corr","lf":-4.52,"lp":6.38},{"s":"corr","lf":-4.46,"lp":6.26},{"s":"corr","lf":-4.40,"lp":6.16},{"s":"corr","lf":-4.34,"lp":6.06},{"s":"corr","lf":-4.28,"lp":5.98},{"s":"corr","lf":-4.22,"lp":5.86},{"s":"corr","lf":-4.16,"lp":5.80},{"s":"corr","lf":-4.10,"lp":5.66},{"s":"corr","lf":-4.04,"lp":5.60},{"s":"corr","lf":-3.98,"lp":5.46},{"s":"corr","lf":-3.92,"lp":5.38},{"s":"corr","lf":-3.86,"lp":5.28},{"s":"corr","lf":-3.80,"lp":5.20},{"s":"corr","lf":-3.74,"lp":5.08},{"s":"corr","lf":-3.68,"lp":5.02},{"s":"corr","lf":-3.62,"lp":4.88},{"s":"corr","lf":-3.56,"lp":4.80},{"s":"corr","lf":-3.50,"lp":4.66},{"s":"corr","lf":-3.44,"lp":4.56},{"s":"corr","lf":-3.38,"lp":4.48},{"s":"corr","lf":-3.32,"lp":4.36},{"s":"corr","lf":-3.26,"lp":4.28},{"s":"corr","lf":-3.20,"lp":4.12},{"s":"corr","lf":-3.14,"lp":4.02},{"s":"corr","lf":-3.08,"lp":3.86},{"s":"corr","lf":-3.02,"lp":3.72},{"s":"corr","lf":-2.96,"lp":3.58},{"s":"corr","lf":-2.90,"lp":3.40},{"s":"corr","lf":-2.84,"lp":3.24},{"s":"corr","lf":-2.78,"lp":3.06},{"s":"corr","lf":-2.72,"lp":2.86},{"s":"corr","lf":-2.66,"lp":2.66},{"s":"corr","lf":-2.60,"lp":2.46},{"s":"corr","lf":-2.55,"lp":2.26},{"s":"corr","lf":-2.50,"lp":2.04},{"s":"corr","lf":-2.45,"lp":1.84},{"s":"corr","lf":-2.40,"lp":1.60},{"s":"corr","lf":-2.36,"lp":1.38},{"s":"corr","lf":-2.32,"lp":1.14},
      {"s":"rp","lf":-4.99,"lp":7.32},{"s":"rp","lf":-4.85,"lp":7.18},{"s":"rp","lf":-4.70,"lp":6.98},{"s":"rp","lf":-4.62,"lp":6.86},{"s":"rp","lf":-4.50,"lp":6.72},{"s":"rp","lf":-4.39,"lp":6.57},{"s":"rp","lf":-4.30,"lp":6.38},{"s":"rp","lf":-4.21,"lp":6.15},{"s":"rp","lf":-4.12,"lp":6.00},{"s":"rp","lf":-4.07,"lp":5.94},{"s":"rp","lf":-4.03,"lp":5.82},{"s":"rp","lf":-3.98,"lp":5.62},{"s":"rp","lf":-3.92,"lp":5.45},{"s":"rp","lf":-3.84,"lp":5.26},{"s":"rp","lf":-3.75,"lp":5.10},{"s":"rp","lf":-3.65,"lp":4.94},{"s":"rp","lf":-3.55,"lp":4.78},{"s":"rp","lf":-3.47,"lp":4.64},{"s":"rp","lf":-3.38,"lp":4.48},{"s":"rp","lf":-3.30,"lp":4.34},{"s":"rp","lf":-3.20,"lp":4.16},{"s":"rp","lf":-3.10,"lp":3.96},{"s":"rp","lf":-3.01,"lp":3.76},{"s":"rp","lf":-2.92,"lp":3.54},{"s":"rp","lf":-2.84,"lp":3.34},{"s":"rp","lf":-2.76,"lp":3.12},{"s":"rp","lf":-2.68,"lp":2.88},{"s":"rp","lf":-2.60,"lp":2.62},{"s":"rp","lf":-2.54,"lp":2.36},{"s":"rp","lf":-2.48,"lp":2.10},{"s":"rp","lf":-2.42,"lp":1.78},{"s":"rp","lf":-2.37,"lp":1.46},{"s":"rp","lf":-2.32,"lp":1.12},
      {"s":"orig","lf":-6.89,"lp":9.31},{"s":"orig","lf":-6.70,"lp":9.30},{"s":"orig","lf":-6.47,"lp":9.27},{"s":"orig","lf":-6.30,"lp":9.16},{"s":"orig","lf":-6.14,"lp":9.02},{"s":"orig","lf":-6.00,"lp":8.86},{"s":"orig","lf":-5.87,"lp":8.65},{"s":"orig","lf":-5.64,"lp":8.23},{"s":"orig","lf":-5.32,"lp":7.69},{"s":"orig","lf":-5.00,"lp":7.20},{"s":"orig","lf":-4.85,"lp":6.98},{"s":"orig","lf":-4.39,"lp":6.24},{"s":"orig","lf":-3.93,"lp":5.45},{"s":"orig","lf":-3.47,"lp":4.66},{"s":"orig","lf":-3.20,"lp":4.18},{"s":"orig","lf":-3.01,"lp":3.74},{"s":"orig","lf":-2.90,"lp":3.48},{"s":"orig","lf":-2.78,"lp":3.16},{"s":"orig","lf":-2.66,"lp":2.80},{"s":"orig","lf":-2.55,"lp":2.41},{"s":"orig","lf":-2.48,"lp":2.12},{"s":"orig","lf":-2.41,"lp":1.75},{"s":"orig","lf":-2.36,"lp":1.42},{"s":"orig","lf":-2.32,"lp":1.12}
    ]
  },
  "columns": 3,
  "spacing": {"row": 42, "column": 64},
  "bounds": "flush",
  "resolve": {"scale": {"x": "independent", "y": "independent", "color": "independent"}, "legend": {"color": "independent"}},
  "concat": [
    {
      "width": 362, "height": 361,
      "layer": [
        {
          "data": {"name": "a"},
          "mark": {"type": "line", "clip": true},
          "encoding": {
            "x": {"field": "lf", "type": "quantitative", "scale": {"domain": [-5, -2], "nice": false, "zero": false}, "axis": {"values": [-5, -4, -3, -2], "title": null, "labelExpr": "'10' + replace(replace(replace(replace(replace(replace(replace(replace(replace(replace(replace('' + round(datum.value), '-', '⁻'), '0', '⁰'), '1', '¹'), '2', '²'), '3', '³'), '4', '⁴'), '5', '⁵'), '6', '⁶'), '7', '⁷'), '8', '⁸'), '9', '⁹')"}},
            "y": {"field": "lp", "type": "quantitative", "scale": {"domain": [0.699, 7.699], "nice": false, "zero": false}, "axis": {"values": [1, 2, 3, 4, 5, 6, 7], "title": "V̂²  (Km²/s²/Hz)", "labelExpr": "'10' + replace(replace(replace(replace(replace(replace(replace(replace(replace(replace(replace('' + round(datum.value), '-', '⁻'), '0', '⁰'), '1', '¹'), '2', '²'), '3', '³'), '4', '⁴'), '5', '⁵'), '6', '⁶'), '7', '⁷'), '8', '⁸'), '9', '⁹')"}},
            "color": {"field": "s", "type": "nominal", "scale": {"domain": ["ls6", "ls12", "ls24", "orig"], "range": ["#33e033", "#ff1a1a", "#1a1aff", "#000000"]}, "legend": {"legendX": 26, "legendY": 287, "labelOffset": 53.5, "labelExpr": "datum.label == 'ls6' ? 'Ls = 6 hrs' : datum.label == 'ls12' ? 'Ls = 12 hrs' : datum.label == 'ls24' ? 'Ls = 24 hrs' : 'original: slope -1.66'"}}
          }
        },
        {"data": {"values": [{}]}, "mark": {"type": "rule", "strokeDash": [7, 3, 1.5, 3], "color": "#333", "strokeWidth": 0.9}, "encoding": {"x": {"datum": -3.867}, "y": {"datum": 5.986}, "x2": {"datum": -2.68}, "y2": {"datum": 3.98}}},
        {"data": {"values": [{}]}, "mark": {"type": "text", "text": "-1.66", "fontSize": 15, "color": "#444"}, "encoding": {"x": {"datum": -3.003}, "y": {"datum": 5.08}}},
        {"data": {"values": [{}]}, "mark": {"type": "text", "text": "Lg = 1 hr", "fontSize": 15, "color": "#333", "align": "left"}, "encoding": {"x": {"datum": -4.884}, "y": {"datum": 4.09}}},
        {"data": {"values": [{}]}, "mark": {"type": "text", "text": "α: -1.77", "fontSize": 16, "color": "#22cc22"}, "encoding": {"x": {"datum": -3.763}, "y": {"datum": 3.466}}},
        {"data": {"values": [{}]}, "mark": {"type": "text", "text": "α: -1.74", "fontSize": 16, "color": "#ff1a1a"}, "encoding": {"x": {"datum": -3.763}, "y": {"datum": 3.10}}},
        {"data": {"values": [{}]}, "mark": {"type": "text", "text": "α: -1.68", "fontSize": 16, "color": "#3333ff"}, "encoding": {"x": {"datum": -3.763}, "y": {"datum": 2.75}}},
        {"data": {"values": [{}]}, "mark": {"type": "rule", "color": "#888", "strokeWidth": 1.2}, "encoding": {"x": {"datum": -4.6}, "x2": {"datum": -4.116}, "y": {"datum": 3.09}}},
        {"data": {"values": [{}]}, "mark": {"type": "rule", "color": "#888", "strokeWidth": 1.2}, "encoding": {"x": {"datum": -3.472}, "x2": {"datum": -3.017}, "y": {"datum": 3.09}}},
        {"data": {"values": [{}]}, "mark": {"type": "rule", "color": "#888", "strokeWidth": 1.2}, "encoding": {"x": {"datum": -4.6}, "y": {"datum": 3.04}, "y2": {"datum": 3.14}}},
        {"data": {"values": [{}]}, "mark": {"type": "rule", "color": "#888", "strokeWidth": 1.2}, "encoding": {"x": {"datum": -3.017}, "y": {"datum": 3.04}, "y2": {"datum": 3.14}}},
        {"data": {"values": [{}]}, "mark": {"type": "text", "text": ["Synt. 1 data", "linear recovery"], "fontSize": 18.5, "lineHeight": 18.5, "color": "#111", "align": "left", "baseline": "alphabetic"}, "encoding": {"x": {"datum": -3.086}, "y": {"datum": 7.21}}},
        {"data": {"values": [{}]}, "mark": {"type": "text", "text": "a", "fontSize": 17, "font": "Liberation Sans", "color": "#000", "align": "left"}, "encoding": {"x": {"datum": -4.945}, "y": {"datum": 7.49}}}
      ]
    },
    {
      "width": 362, "height": 361,
      "layer": [
        {
          "data": {"name": "b"},
          "mark": {"type": "line", "clip": true},
          "encoding": {
            "x": {"field": "lf", "type": "quantitative", "scale": {"domain": [-5, -2], "nice": false, "zero": false}, "axis": {"values": [-5, -4, -3, -2], "title": null, "labelExpr": "'10' + replace(replace(replace(replace(replace(replace(replace(replace(replace(replace(replace('' + round(datum.value), '-', '⁻'), '0', '⁰'), '1', '¹'), '2', '²'), '3', '³'), '4', '⁴'), '5', '⁵'), '6', '⁶'), '7', '⁷'), '8', '⁸'), '9', '⁹')"}},
            "y": {"field": "lp", "type": "quantitative", "scale": {"domain": [0.699, 7.699], "nice": false, "zero": false}, "axis": {"values": [1, 2, 3, 4, 5, 6, 7], "title": null, "labelExpr": "'10' + replace(replace(replace(replace(replace(replace(replace(replace(replace(replace(replace('' + round(datum.value), '-', '⁻'), '0', '⁰'), '1', '¹'), '2', '²'), '3', '³'), '4', '⁴'), '5', '⁵'), '6', '⁶'), '7', '⁷'), '8', '⁸'), '9', '⁹')"}},
            "color": {"field": "s", "type": "nominal", "scale": {"domain": ["lg05", "lg1", "lg4", "orig"], "range": ["#33e033", "#ff1a1a", "#1a1aff", "#000000"]}, "legend": {"legendX": 27, "legendY": 287, "labelOffset": 51.5, "labelExpr": "datum.label == 'lg05' ? 'Lg = 0.5 hrs' : datum.label == 'lg1' ? 'Lg = 1 hrs' : datum.label == 'lg4' ? 'Lg = 4 hrs' : 'original: slope -1.66'"}}
          }
        },
        {"data": {"values": [{}]}, "mark": {"type": "rule", "strokeDash": [7, 3, 1.5, 3], "color": "#333", "strokeWidth": 0.9}, "encoding": {"x": {"datum": -4.028}, "y": {"datum": 6.102}, "x2": {"datum": -2.845}, "y2": {"datum": 4.092}}},
        {"data": {"values": [{}]}, "mark": {"type": "text", "text": "-1.66", "fontSize": 15, "color": "#444"}, "encoding": {"x": {"datum": -3.243}, "y": {"datum": 5.31}}},
        {"data": {"values": [{}]}, "mark": {"type": "text", "text": "Ls = 24 hrs", "fontSize": 15, "color": "#333", "align": "left"}, "encoding": {"x": {"datum": -4.859}, "y": {"datum": 4.13}}},
        {"data": {"values": [{}]}, "mark": {"type": "text", "text": "α: -1.79", "fontSize": 16, "color": "#22cc22", "align": "right"}, "encoding": {"x": {"datum": -2.282}, "y": {"datum": 4.86}}},
        {"data": {"values": [{}]}, "mark": {"type": "text", "text": "α: -1.90", "fontSize": 16, "color": "#ff1a1a", "align": "right"}, "encoding": {"x": {"datum": -2.282}, "y": {"datum": 4.49}}},
        {"data": {"values": [{}]}, "mark": {"type": "text", "text": "α: -2.05", "fontSize": 16, "color": "#3333ff", "align": "right"}, "encoding": {"x": {"datum": -2.282}, "y": {"datum": 4.13}}},
        {"data": {"values": [{}]}, "mark": {"type": "rule", "color": "#888", "strokeWidth": 1.2}, "encoding": {"x": {"datum": -2.787}, "x2": {"datum": -2.254}, "y": {"datum": 3.75}}},
        {"data": {"values": [{}]}, "mark": {"type": "rule", "color": "#888", "strokeWidth": 1.2}, "encoding": {"x": {"datum": -2.787}, "y": {"datum": 3.70}, "y2": {"datum": 3.80}}},
        {"data": {"values": [{}]}, "mark": {"type": "rule", "color": "#888", "strokeWidth": 1.2}, "encoding": {"x": {"datum": -2.254}, "y": {"datum": 3.70}, "y2": {"datum": 3.80}}},
        {"data": {"values": [{}]}, "mark": {"type": "text", "text": ["Synt. 1 data", "linear recovery"], "fontSize": 18.5, "lineHeight": 18.5, "color": "#111", "align": "left", "baseline": "alphabetic"}, "encoding": {"x": {"datum": -3.086}, "y": {"datum": 7.21}}},
        {"data": {"values": [{}]}, "mark": {"type": "text", "text": "b", "fontSize": 17, "font": "Liberation Sans", "color": "#000", "align": "left"}, "encoding": {"x": {"datum": -4.94}, "y": {"datum": 7.47}}}
      ]
    },
    {
      "width": 362, "height": 361,
      "layer": [
        {
          "data": {"name": "c"},
          "mark": {"type": "line", "clip": true},
          "encoding": {
            "x": {"field": "lf", "type": "quantitative", "scale": {"domain": [-7, -2], "nice": false, "zero": false}, "axis": {"values": [-7, -6, -5, -4, -3, -2], "title": null, "labelExpr": "'10' + replace(replace(replace(replace(replace(replace(replace(replace(replace(replace(replace('' + round(datum.value), '-', '⁻'), '0', '⁰'), '1', '¹'), '2', '²'), '3', '³'), '4', '⁴'), '5', '⁵'), '6', '⁶'), '7', '⁷'), '8', '⁸'), '9', '⁹')"}},
            "y": {"field": "lp", "type": "quantitative", "scale": {"domain": [2, 10], "nice": false, "zero": false}, "axis": {"values": [2, 3, 4, 5, 6, 7, 8, 9, 10], "title": null, "labelExpr": "'10' + replace(replace(replace(replace(replace(replace(replace(replace(replace(replace(replace('' + round(datum.value), '-', '⁻'), '0', '⁰'), '1', '¹'), '2', '²'), '3', '³'), '4', '⁴'), '5', '⁵'), '6', '⁶'), '7', '⁷'), '8', '⁸'), '9', '⁹')"}},
            "color": {"field": "s", "type": "nominal", "scale": {"domain": ["bt", "corr", "rp", "orig", "char"], "range": ["#ff1a1a", "#1a1aff", "#33e033", "#000000", "#999999"]}, "legend": {"legendX": 26, "legendY": 267.5, "labelOffset": 60.4, "labelExpr": "datum.label == 'bt' ? 'Blackman-Tukey' : datum.label == 'corr' ? 'corr, linear int, smooth' : datum.label == 'rp' ? 'R&P recov, Lg = 4 hrs' : datum.label == 'orig' ? 'original' : 'characteristic function'"}}
          }
        },
        {"data": {"name": "arrows"}, "mark": {"type": "rule", "color": "#808080", "strokeWidth": 1.2}, "encoding": {"x": {"field": "lf", "type": "quantitative"}, "y": {"field": "lp", "type": "quantitative"}, "x2": {"field": "lf2"}, "y2": {"field": "lp2"}}},
        {"data": {"name": "arrows"}, "mark": {"type": "point", "shape": "triangle-up", "size": 40, "filled": true, "color": "#808080", "opacity": 1, "angle": 213}, "encoding": {"x": {"field": "lf2", "type": "quantitative"}, "y": {"field": "lp2", "type": "quantitative"}}},
        {"data": {"name": "arrows"}, "mark": {"type": "text", "fontSize": 17, "fontWeight": "bold", "color": "#808080", "dx": 9, "dy": -7}, "encoding": {"x": {"field": "lf", "type": "quantitative"}, "y": {"field": "lp", "type": "quantitative"}, "text": {"field": "n"}}},
        {"data": {"values": [{}]}, "mark": {"type": "text", "text": "α: -1.70", "fontSize": 16, "color": "#3333ff", "align": "left"}, "encoding": {"x": {"datum": -5.968}, "y": {"datum": 6.84}}},
        {"data": {"values": [{}]}, "mark": {"type": "text", "text": "α: -1.71", "fontSize": 16, "color": "#22cc22", "align": "left"}, "encoding": {"x": {"datum": -5.968}, "y": {"datum": 6.36}}},
        {"data": {"values": [{}]}, "mark": {"type": "text", "text": "Synt. 1 data", "fontSize": 18.5, "color": "#111", "align": "left", "baseline": "alphabetic"}, "encoding": {"x": {"datum": -3.676}, "y": {"datum": 9.45}}},
        {"data": {"values": [{}]}, "mark": {"type": "text", "text": "c", "fontSize": 17, "font": "Liberation Sans", "color": "#000", "align": "left"}, "encoding": {"x": {"datum": -6.92}, "y": {"datum": 9.76}}}
      ]
    },
    {
      "width": 362, "height": 361,
      "layer": [
        {
          "data": {"name": "d"},
          "mark": {"type": "line", "clip": true},
          "encoding": {
            "x": {"field": "lf", "type": "quantitative", "scale": {"domain": [-5, -2], "nice": false, "zero": false}, "axis": {"values": [-5, -4, -3, -2], "title": "f  (Hz)", "labelExpr": "'10' + replace(replace(replace(replace(replace(replace(replace(replace(replace(replace(replace('' + round(datum.value), '-', '⁻'), '0', '⁰'), '1', '¹'), '2', '²'), '3', '³'), '4', '⁴'), '5', '⁵'), '6', '⁶'), '7', '⁷'), '8', '⁸'), '9', '⁹')"}},
            "y": {"field": "lp", "type": "quantitative", "scale": {"domain": [0.699, 7.699], "nice": false, "zero": false}, "axis": {"values": [1, 2, 3, 4, 5, 6, 7], "title": "V̂²  (Km²/s²/Hz)", "labelExpr": "'10' + replace(replace(replace(replace(replace(replace(replace(replace(replace(replace(replace('' + round(datum.value), '-', '⁻'), '0', '⁰'), '1', '¹'), '2', '²'), '3', '³'), '4', '⁴'), '5', '⁵'), '6', '⁶'), '7', '⁷'), '8', '⁸'), '9', '⁹')"}},
            "color": {"field": "s", "type": "nominal", "scale": {"domain": ["lg05", "lg1", "lg4", "orig"], "range": ["#33e033", "#ff1a1a", "#1a1aff", "#000000"]}, "legend": {"legendX": 26, "legendY": 286.5, "labelOffset": 52.4, "labelExpr": "datum.label == 'lg05' ? 'Lg = 0.5 hrs' : datum.label == 'lg1' ? 'Lg = 1 hr' : datum.label == 'lg4' ? 'Lg = 4 hrs' : 'original spectrum'"}}
          }
        },
        {"data": {"values": [{}]}, "mark": {"type": "rule", "strokeDash": [7, 3, 1.5, 3], "color": "#333", "strokeWidth": 0.9}, "encoding": {"x": {"datum": -4.674}, "y": {"datum": 7.33}, "x2": {"datum": -2.989}, "y2": {"datum": 4.41}}},
        {"data": {"values": [{}]}, "mark": {"type": "text", "text": "-1.75", "fontSize": 15, "color": "#444"}, "encoding": {"x": {"datum": -3.334}, "y": {"datum": 5.51}}},
        {"data": {"values": [{}]}, "mark": {"type": "text", "text": "Ls = 24 hrs", "fontSize": 15, "color": "#333", "align": "left"}, "encoding": {"x": {"datum": -4.853}, "y": {"datum": 4.55}}},
        {"data": {"values": [{}]}, "mark": {"type": "text", "text": "α: -1.80", "fontSize": 16, "color": "#22cc22"}, "encoding": {"x": {"datum": -3.94}, "y": {"datum": 3.69}}},
        {"data": {"values": [{}]}, "mark": {"type": "text", "text": "α: -1.83", "fontSize": 16, "color": "#ff1a1a"}, "encoding": {"x": {"datum": -3.94}, "y": {"datum": 3.245}}},
        {"data": {"values": [{}]}, "mark": {"type": "text", "text": "α: -1.84", "fontSize": 16, "color": "#3333ff"}, "encoding": {"x": {"datum": -3.94}, "y": {"datum": 2.79}}},
        {"data": {"values": [{}]}, "mark": {"type": "rule", "color": "#888", "strokeWidth": 1.2}, "encoding": {"x": {"datum": -4.724}, "x2": {"datum": -4.30}, "y": {"datum": 3.29}}},
        {"data": {"values": [{}]}, "mark": {"type": "rule", "color": "#888", "strokeWidth": 1.2}, "encoding": {"x": {"datum": -3.583}, "x2": {"datum": -2.989}, "y": {"datum": 3.29}}},
        {"data": {"values": [{}]}, "mark": {"type": "rule", "color": "#888", "strokeWidth": 1.2}, "encoding": {"x": {"datum": -4.724}, "y": {"datum": 3.24}, "y2": {"datum": 3.34}}},
        {"data": {"values": [{}]}, "mark": {"type": "rule", "color": "#888", "strokeWidth": 1.2}, "encoding": {"x": {"datum": -2.989}, "y": {"datum": 3.24}, "y2": {"datum": 3.34}}},
        {"data": {"values": [{}]}, "mark": {"type": "text", "text": ["Synt. 2 data", "linear recovery", "no windowing"], "fontSize": 18.5, "lineHeight": 18.5, "color": "#111", "align": "left", "baseline": "alphabetic"}, "encoding": {"x": {"datum": -3.086}, "y": {"datum": 7.27}}},
        {"data": {"values": [{}]}, "mark": {"type": "text", "text": "d", "fontSize": 17, "font": "Liberation Sans", "color": "#000", "align": "left"}, "encoding": {"x": {"datum": -4.966}, "y": {"datum": 7.49}}}
      ]
    },
    {
      "width": 362, "height": 361,
      "layer": [
        {
          "data": {"name": "e"},
          "mark": {"type": "line", "clip": true},
          "encoding": {
            "x": {"field": "lf", "type": "quantitative", "scale": {"domain": [-5, -2], "nice": false, "zero": false}, "axis": {"values": [-5, -4, -3, -2], "title": "f  (Hz)", "labelExpr": "'10' + replace(replace(replace(replace(replace(replace(replace(replace(replace(replace(replace('' + round(datum.value), '-', '⁻'), '0', '⁰'), '1', '¹'), '2', '²'), '3', '³'), '4', '⁴'), '5', '⁵'), '6', '⁶'), '7', '⁷'), '8', '⁸'), '9', '⁹')"}},
            "y": {"field": "lp", "type": "quantitative", "scale": {"domain": [0.699, 7.699], "nice": false, "zero": false}, "axis": {"values": [1, 2, 3, 4, 5, 6, 7], "title": null, "labelExpr": "'10' + replace(replace(replace(replace(replace(replace(replace(replace(replace(replace(replace('' + round(datum.value), '-', '⁻'), '0', '⁰'), '1', '¹'), '2', '²'), '3', '³'), '4', '⁴'), '5', '⁵'), '6', '⁶'), '7', '⁷'), '8', '⁸'), '9', '⁹')"}},
            "color": {"field": "s", "type": "nominal", "scale": {"domain": ["lg05", "lg1", "lg4", "orig"], "range": ["#33e033", "#ff1a1a", "#1a1aff", "#000000"]}, "legend": {"legendX": 27, "legendY": 286.5, "labelOffset": 51.4, "labelExpr": "datum.label == 'lg05' ? 'Lg = 0.5 hrs' : datum.label == 'lg1' ? 'Lg = 1 hr' : datum.label == 'lg4' ? 'Lg = 4 hr' : 'original spectrum'"}}
          }
        },
        {"data": {"values": [{}]}, "mark": {"type": "rule", "strokeDash": [7, 3, 1.5, 3], "color": "#333", "strokeWidth": 0.9}, "encoding": {"x": {"datum": -4.644}, "y": {"datum": 7.37}, "x2": {"datum": -2.959}, "y2": {"datum": 4.454}}},
        {"data": {"values": [{}]}, "mark": {"type": "text", "text": "-1.75", "fontSize": 15, "color": "#444"}, "encoding": {"x": {"datum": -3.299}, "y": {"datum": 5.43}}},
        {"data": {"values": [{}]}, "mark": {"type": "text", "text": "Ls = 24 hrs", "fontSize": 15, "color": "#333", "align": "left"}, "encoding": {"x": {"datum": -4.859}, "y": {"datum": 4.55}}},
        {"data": {"values": [{}]}, "mark": {"type": "text", "text": "α: -1.75", "fontSize": 16, "color": "#22cc22"}, "encoding": {"x": {"datum": -3.906}, "y": {"datum": 3.73}}},
        {"data": {"values": [{}]}, "mark": {"type": "text", "text": "α: -1.79", "fontSize": 16, "color": "#ff1a1a"}, "encoding": {"x": {"datum": -3.906}, "y": {"datum": 3.34}}},
        {"data": {"values": [{}]}, "mark": {"type": "text", "text": "α: -1.83", "fontSize": 16, "color": "#3333ff"}, "encoding": {"x": {"datum": -3.906}, "y": {"datum": 2.95}}},
        {"data": {"values": [{}]}, "mark": {"type": "rule", "color": "#000", "strokeWidth": 1.2}, "encoding": {"x": {"datum": -4.671}, "x2": {"datum": -4.251}, "y": {"datum": 3.32}}},
        {"data": {"values": [{}]}, "mark": {"type": "rule", "color": "#000", "strokeWidth": 1.2}, "encoding": {"x": {"datum": -3.547}, "x2": {"datum": -2.953}, "y": {"datum": 3.32}}},
        {"data": {"values": [{}]}, "mark": {"type": "rule", "color": "#000", "strokeWidth": 1.2}, "encoding": {"x": {"datum": -4.671}, "y": {"datum": 3.27}, "y2": {"datum": 3.37}}},
        {"data": {"values": [{}]}, "mark": {"type": "rule", "color": "#000", "strokeWidth": 1.2}, "encoding": {"x": {"datum": -2.953}, "y": {"datum": 3.27}, "y2": {"datum": 3.37}}},
        {"data": {"values": [{}]}, "mark": {"type": "text", "text": ["Synt. 2 data", "linear recovery"], "fontSize": 18.5, "lineHeight": 18.5, "color": "#111", "align": "left", "baseline": "alphabetic"}, "encoding": {"x": {"datum": -3.091}, "y": {"datum": 7.23}}},
        {"data": {"values": [{}]}, "mark": {"type": "text", "text": "e", "fontSize": 17, "font": "Liberation Sans", "color": "#000", "align": "left"}, "encoding": {"x": {"datum": -4.96}, "y": {"datum": 7.49}}}
      ]
    },
    {
      "width": 362, "height": 361,
      "layer": [
        {
          "data": {"name": "f"},
          "mark": {"type": "line", "clip": true},
          "encoding": {
            "x": {"field": "lf", "type": "quantitative", "scale": {"domain": [-7, -2], "nice": false, "zero": false}, "axis": {"values": [-7, -6, -5, -4, -3, -2], "title": "f  (Hz)", "labelExpr": "'10' + replace(replace(replace(replace(replace(replace(replace(replace(replace(replace(replace('' + round(datum.value), '-', '⁻'), '0', '⁰'), '1', '¹'), '2', '²'), '3', '³'), '4', '⁴'), '5', '⁵'), '6', '⁶'), '7', '⁷'), '8', '⁸'), '9', '⁹')"}},
            "y": {"field": "lp", "type": "quantitative", "scale": {"domain": [1, 10], "nice": false, "zero": false}, "axis": {"values": [1, 2, 3, 4, 5, 6, 7, 8, 9, 10], "title": null, "labelExpr": "'10' + replace(replace(replace(replace(replace(replace(replace(replace(replace(replace(replace('' + round(datum.value), '-', '⁻'), '0', '⁰'), '1', '¹'), '2', '²'), '3', '³'), '4', '⁴'), '5', '⁵'), '6', '⁶'), '7', '⁷'), '8', '⁸'), '9', '⁹')"}},
            "color": {"field": "s", "type": "nominal", "scale": {"domain": ["bt", "corr", "rp", "orig", "char"], "range": ["#ff1a1a", "#1a1aff", "#33e033", "#000000", "#999999"]}, "legend": {"legendX": 27, "legendY": 272.5, "labelOffset": 60.4, "labelExpr": "datum.label == 'bt' ? 'Blackman-Tukey' : datum.label == 'corr' ? 'corr, linear int, smooth' : datum.label == 'rp' ? 'R&P recov, Lg = 4 hrs' : datum.label == 'orig' ? 'original' : 'characteristic function'"}}
          }
        },
        {"data": {"values": [{}]}, "mark": {"type": "text", "text": "Synt. 2 data", "fontSize": 18.5, "color": "#111", "align": "left", "baseline": "alphabetic"}, "encoding": {"x": {"datum": -3.667}, "y": {"datum": 9.35}}},
        {"data": {"values": [{}]}, "mark": {"type": "text", "text": "f", "fontSize": 17, "font": "Liberation Sans", "color": "#000", "align": "left"}, "encoding": {"x": {"datum": -6.93}, "y": {"datum": 9.70}}}
      ]
    }
  ]
}
